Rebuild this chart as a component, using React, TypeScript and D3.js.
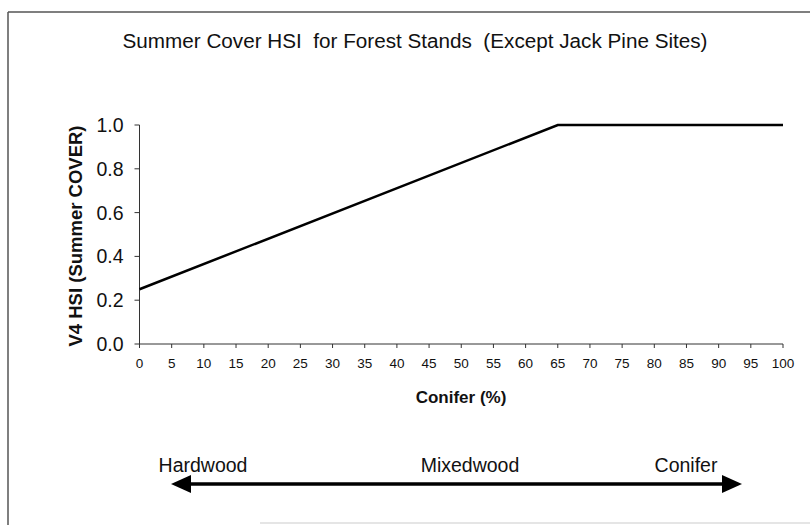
import React from "react";
import * as d3 from "d3";

const conifer = [0, 65, 100];
const hsi = [0.25, 1.0, 1.0];
const xTicks = d3.range(0, 101, 5);
const yTicks = [0, 0.2, 0.4, 0.6, 0.8, 1.0];
const title = "Summer Cover HSI  for Forest Stands  (Except Jack Pine Sites)";
const yLabel = "V4 HSI (Summer COVER)";
const xLabel = "Conifer (%)";
const gradient = ["Hardwood", "Mixedwood", "Conifer"];

export default function App() {
  const W = 810, H = 525;
  const x = d3.scaleLinear().domain([0, 100]).range([139.5, 783]);
  const y = d3.scaleLinear().domain([0, 1]).range([344, 125]);
  const line = d3.line<number>().x((_, i) => x(conifer[i])).y((d) => y(d));
  const font = "'Liberation Sans', Arial, sans-serif";
  const arrowY = 484;
  return (
    <svg width={W} height={H} style={{ position: "absolute", left: 0, top: 0, background: "#fff" }} fontFamily={font}>
      <rect x={0} y={0} width={W} height={H} fill="#fff" />
      <line x1={8} x2={W} y1={12} y2={12} stroke="#555" strokeWidth={1.5} />
      <line x1={8} x2={8} y1={12} y2={H} stroke="#555" strokeWidth={1.5} />
      <line x1={260} x2={W} y1={523} y2={523} stroke="#ddd" strokeWidth={1.5} />
      <text x={415} y={48} textAnchor="middle" fontSize={20} textLength={585} lengthAdjust="spacingAndGlyphs" fill="#111" style={{ whiteSpace: "pre" }}>{title}</text>
      {/* axes */}
      <line x1={x(0)} x2={x(0)} y1={y(1)} y2={y(0)} stroke="#333" strokeWidth={1} />
      <line x1={x(0)} x2={x(100)} y1={y(0)} y2={y(0)} stroke="#333" strokeWidth={1} />
      {yTicks.map((t) => (
        <g key={"y" + t}>
          <line x1={x(0) - 5} x2={x(0)} y1={y(t)} y2={y(t)} stroke="#333" />
          <text x={x(0) - 16} y={y(t) + 7} textAnchor="end" fontSize={19.5} fill="#111">{t.toFixed(1)}</text>
        </g>
      ))}
      {xTicks.map((t) => (
        <g key={"x" + t}>
          <line x1={x(t)} x2={x(t)} y1={y(0)} y2={y(0) + 4} stroke="#333" />
          <text x={x(t)} y={y(0) + 24} textAnchor="middle" fontSize={13.5} fill="#111">{t}</text>
        </g>
      ))}
      <path d={line(hsi) || ""} fill="none" stroke="#000" strokeWidth={2.5} />
      <text transform={`translate(82,236) rotate(-90)`} textAnchor="middle" fontSize={18.5} fontWeight="bold" fill="#111">{yLabel}</text>
      <text x={461} y={403} textAnchor="middle" fontSize={17} fontWeight="bold" fill="#111">{xLabel}</text>
      {/* gradient arrow */}
      <line x1={185} x2={728} y1={arrowY} y2={arrowY} stroke="#000" strokeWidth={3.5} />
      <path d={`M171,${arrowY} L191,${arrowY - 9} L191,${arrowY + 9} Z`} fill="#000" />
      <path d={`M742,${arrowY} L722,${arrowY - 9} L722,${arrowY + 9} Z`} fill="#000" />
      <text x={203} y={472} textAnchor="middle" fontSize={19.5} fill="#111">{gradient[0]}</text>
      <text x={470} y={472} textAnchor="middle" fontSize={19.5} fill="#111">{gradient[1]}</text>
      <text x={686} y={472} textAnchor="middle" fontSize={19.5} fill="#111">{gradient[2]}</text>
    </svg>
  );
}
